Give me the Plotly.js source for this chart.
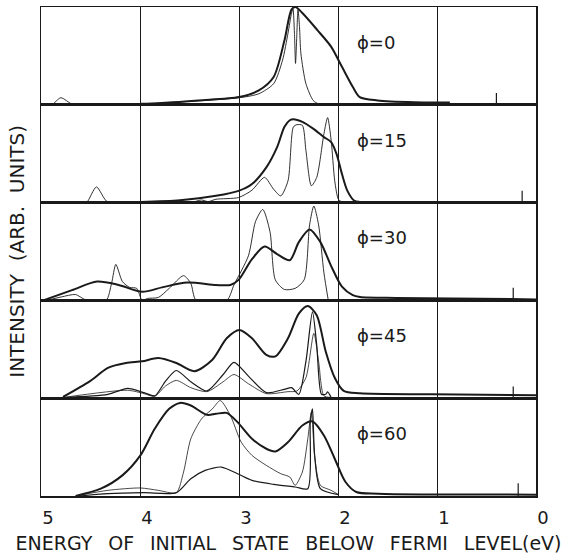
<!DOCTYPE html>
<html>
<head>
<meta charset="utf-8">
<script src="https://cdn.plot.ly/plotly-3.0.1.min.js"></script>
<style>html,body{margin:0;padding:0;background:#fff;}#chart{width:564px;height:557px;}</style>
</head>
<body>
<div id="chart"></div>
<script>
// Panel labels (azimuthal angle phi)
const phiLabels = ['\u03D5=0', '\u03D5=15', '\u03D5=30', '\u03D5=45', '\u03D5=60'];
const tickVals = [5, 4, 3, 2, 1, 0];
const tickText = ['5', '4', '3', '2', '1', '0'];

// ---- phi = 0 ----
const thick0_E = [4.0, 3.81, 3.41, 3.0, 2.80, 2.65, 2.54, 2.47, 2.43, 2.36, 2.21, 2.07, 1.96, 1.85, 1.78, 1.60, 1.23, 0.87];
const thick0_I = [0.01, 0.017, 0.045, 0.079, 0.148, 0.285, 0.663, 0.973, 1.0, 0.938, 0.766, 0.595, 0.388, 0.182, 0.079, 0.045, 0.027, 0.024];
const thin0_E = [4.95, 4.89, 4.80, 4.67, 4.0, 3.0, 2.80, 2.65, 2.56, 2.505, 2.469, 2.455, 2.44, 2.429, 2.418, 2.404, 2.389, 2.375, 2.324, 2.251, 2.196, 1.6, 1.0];
const thin0_I = [0.0, 0.0, 0.072, 0.0, 0.01, 0.072, 0.113, 0.216, 0.457, 0.732, 0.938, 0.979, 0.732, 0.423, 0.663, 0.973, 0.80, 0.526, 0.216, 0.045, 0.01, 0.005, 0.005];

// ---- phi = 15 ----
const thick1_E = [3.996, 3.596, 3.233, 3.004, 2.869, 2.724, 2.615, 2.542, 2.487, 2.451, 2.36, 2.251, 2.142, 2.069, 2.015, 1.96, 1.905, 1.833, 1.778, 1.4, 0.87];
const thick1_I = [0.007, 0.024, 0.069, 0.12, 0.19, 0.36, 0.567, 0.773, 0.842, 0.852, 0.825, 0.756, 0.67, 0.619, 0.498, 0.292, 0.12, 0.017, 0.007, 0.006, 0.005];
const thin1_E = [4.6, 4.54, 4.44, 4.32, 3.6, 3.45, 3.38, 3.31, 3.233, 3.004, 2.869, 2.742, 2.651, 2.578, 2.505, 2.451, 2.415, 2.36, 2.324, 2.269, 2.215, 2.142, 2.105, 2.069, 2.033, 1.996, 1.96, 1.5, 0.9];
const thin1_I = [0.0, 0.0, 0.16, 0.0, 0.01, 0.01, 0.027, 0.01, 0.034, 0.052, 0.127, 0.258, 0.137, 0.069, 0.223, 0.773, 0.797, 0.79, 0.533, 0.172, 0.258, 0.704, 0.869, 0.636, 0.223, 0.034, 0.007, 0.004, 0.004];

// ---- phi = 30 ----
const thick2_E = [4.978, 4.687, 4.433, 4.215, 3.978, 3.778, 3.524, 3.233, 3.087, 3.004, 2.869, 2.742, 2.615, 2.487, 2.396, 2.287, 2.178, 2.069, 1.96, 1.851, 1.778, 1.415, 0.251, 0.0];
const thick2_I = [0.0, 0.105, 0.193, 0.158, 0.088, 0.133, 0.182, 0.158, 0.158, 0.21, 0.421, 0.551, 0.474, 0.411, 0.596, 0.726, 0.596, 0.351, 0.14, 0.053, 0.035, 0.025, 0.014, 0.01];
const thin2_E = [4.942, 4.796, 4.651, 4.56, 4.505, 4.342, 4.287, 4.244, 4.178, 4.105, 4.033, 3.978, 3.924, 3.815, 3.705, 3.56, 3.487, 3.433, 3.124, 3.051, 2.905, 2.833, 2.76, 2.687, 2.633, 2.542, 2.433, 2.342, 2.287, 2.244, 2.196, 2.142, 2.098];
const thin2_I = [0.0, 0.035, 0.06, 0.01, 0.0, 0.0, 0.175, 0.368, 0.193, 0.133, 0.123, 0.0, 0.02, 0.03, 0.123, 0.253, 0.175, 0.0, 0.0, 0.158, 0.456, 0.807, 0.93, 0.702, 0.21, 0.112, 0.123, 0.21, 0.772, 0.965, 0.772, 0.281, 0.0];

// ---- phi = 45 ----
const thick3_E = [4.778, 4.505, 4.324, 4.142, 3.978, 3.815, 3.633, 3.451, 3.269, 3.124, 2.996, 2.869, 2.724, 2.633, 2.505, 2.396, 2.305, 2.215, 2.124, 2.033, 1.942, 1.778, 1.051, 0.0];
const thick3_I = [0.013, 0.175, 0.31, 0.36, 0.377, 0.411, 0.36, 0.276, 0.394, 0.613, 0.697, 0.613, 0.444, 0.428, 0.613, 0.865, 0.943, 0.848, 0.478, 0.209, 0.074, 0.05, 0.04, 0.03];
const mid3_E = [4.778, 4.324, 4.124, 3.96, 3.851, 3.742, 3.633, 3.487, 3.324, 3.16, 3.051, 2.905, 2.724, 2.542, 2.469, 2.396, 2.324, 2.258, 2.215, 2.167, 2.124, 2.105, 2.069];
const mid3_I = [0.007, 0.04, 0.10, 0.057, 0.024, 0.175, 0.283, 0.168, 0.074, 0.242, 0.367, 0.226, 0.057, 0.091, 0.108, 0.04, 0.377, 0.882, 0.545, 0.04, 0.04, 0.064, 0.007];
const thin3_E = [4.778, 4.124, 3.96, 3.851, 3.742, 3.633, 3.487, 3.324, 3.16, 3.051, 2.905, 2.724, 2.505, 2.415, 2.324, 2.244, 2.196, 2.142, 2.069];
const thin3_I = [0.007, 0.081, 0.047, 0.02, 0.125, 0.182, 0.108, 0.067, 0.168, 0.242, 0.148, 0.047, 0.067, 0.074, 0.209, 0.663, 0.377, 0.024, 0.007];

// ---- phi = 60 ----
const thick4_E = [4.651, 4.396, 4.178, 3.996, 3.851, 3.705, 3.596, 3.487, 3.324, 3.233, 3.124, 3.015, 2.869, 2.724, 2.633, 2.505, 2.36, 2.258, 2.142, 2.033, 1.924, 1.815, 1.596, 0.0];
const thick4_I = [0.0, 0.075, 0.211, 0.415, 0.687, 0.891, 0.952, 0.925, 0.83, 0.84, 0.85, 0.755, 0.585, 0.483, 0.456, 0.551, 0.721, 0.762, 0.619, 0.381, 0.143, 0.041, 0.024, 0.014];
const thin4_E = [4.615, 4.324, 3.996, 3.815, 3.633, 3.56, 3.487, 3.378, 3.269, 3.189, 3.087, 2.978, 2.869, 2.724, 2.578, 2.487, 2.433, 2.36, 2.305, 2.269, 2.233, 2.178, 2.069, 1.996];
const thin4_I = [0.007, 0.058, 0.082, 0.058, 0.034, 0.245, 0.585, 0.789, 0.891, 0.976, 0.823, 0.551, 0.415, 0.313, 0.228, 0.194, 0.109, 0.245, 0.585, 0.857, 0.381, 0.109, 0.058, 0.014];
const mid4_E = [4.615, 4.324, 3.96, 3.633, 3.487, 3.342, 3.178, 3.015, 2.869, 2.651, 2.433, 2.305, 2.28, 2.258, 2.236, 2.178, 1.996];
const mid4_I = [0.0, 0.024, 0.034, 0.034, 0.177, 0.262, 0.296, 0.228, 0.16, 0.119, 0.092, 0.075, 0.755, 0.891, 0.415, 0.075, 0.014];

// Fermi-level reference ticks (one per panel)
const fermiE = [0.40, 0.14, 0.23, 0.23, 0.18];
const fermiH = [0.12, 0.12, 0.13, 0.12, 0.13];

const ink = '#1a1a1a';
const yNames = ['y', 'y2', 'y3', 'y4', 'y5'];
const panels = [
  {thick: [thick0_E, thick0_I], others: [[thin0_E, thin0_I, 0.9]]},
  {thick: [thick1_E, thick1_I], others: [[thin1_E, thin1_I, 0.9]]},
  {thick: [thick2_E, thick2_I], others: [[thin2_E, thin2_I, 0.9]]},
  {thick: [thick3_E, thick3_I], others: [[mid3_E, mid3_I, 1.2], [thin3_E, thin3_I, 0.8]]},
  {thick: [thick4_E, thick4_I], others: [[thin4_E, thin4_I, 0.8], [mid4_E, mid4_I, 1.2]]}
];

const traces = [];
panels.forEach((p, i) => {
  p.others.forEach(o => {
    traces.push({x: o[0], y: o[1], xaxis: 'x', yaxis: yNames[i], mode: 'lines',
      line: {color: ink, width: o[2], shape: 'spline', smoothing: 0.7}, hoverinfo: 'skip'});
  });
  traces.push({x: p.thick[0], y: p.thick[1], xaxis: 'x', yaxis: yNames[i], mode: 'lines',
    line: {color: ink, width: 2.0, shape: 'spline', smoothing: 0.8}, hoverinfo: 'skip'});
  traces.push({x: [fermiE[i], fermiE[i]], y: [0, fermiH[i]], xaxis: 'x', yaxis: yNames[i], mode: 'lines',
    line: {color: ink, width: 1.2}, hoverinfo: 'skip'});
});

const font = 'DejaVu Sans, sans-serif';
const sp = '\u00A0\u00A0\u2009';
const layout = {
  width: 564, height: 557,
  margin: {l: 41, r: 28, t: 7, b: 61},
  paper_bgcolor: '#fff', plot_bgcolor: '#fff',
  showlegend: false,
  font: {family: font, color: ink},
  xaxis: {
    range: [5, 0], anchor: 'y5', showline: true, mirror: 'all', linecolor: ink, linewidth: 1.5,
    showgrid: true, gridcolor: ink, gridwidth: 1, zeroline: false,
    tickvals: tickVals, ticktext: tickText, ticks: '', ticklabelshift: -7, ticklabelstandoff: 5,
    tickfont: {size: 18, family: font, color: ink},
    title: {text: 'ENERGY' + sp + 'OF' + sp + 'INITIAL' + sp + 'STATE' + sp + 'BELOW' + sp + 'FERMI' + sp + 'LEVEL(eV)',
            font: {size: 19, family: font, color: ink}, standoff: 9}
  },
  annotations: [{
    text: 'INTENSITY\u00A0\u00A0(ARB.\u00A0\u00A0UNITS)', textangle: -90, xref: 'paper', yref: 'paper',
    x: -0.05, y: 0.5, xanchor: 'center', yanchor: 'middle', showarrow: false,
    font: {size: 20, family: font, color: ink}
  }]
};
yNames.forEach((yn, i) => {
  const key = i === 0 ? 'yaxis' : 'yaxis' + (i + 1);
  layout[key] = {
    domain: [(4 - i) * 0.2, (5 - i) * 0.2], range: [0, 1], anchor: 'x',
    showline: true, mirror: true, linecolor: ink, linewidth: 1.5,
    showgrid: false, zeroline: false, showticklabels: false, ticks: ''
  };
  layout.annotations.push({
    text: phiLabels[i], xref: 'x', yref: yn, x: 1.83, y: 0.64,
    xanchor: 'left', yanchor: 'middle', showarrow: false,
    font: {size: 18, family: font, color: ink}
  });
});

Plotly.newPlot('chart', traces, layout, {staticPlot: true, displayModeBar: false});
</script>
</body>
</html>
